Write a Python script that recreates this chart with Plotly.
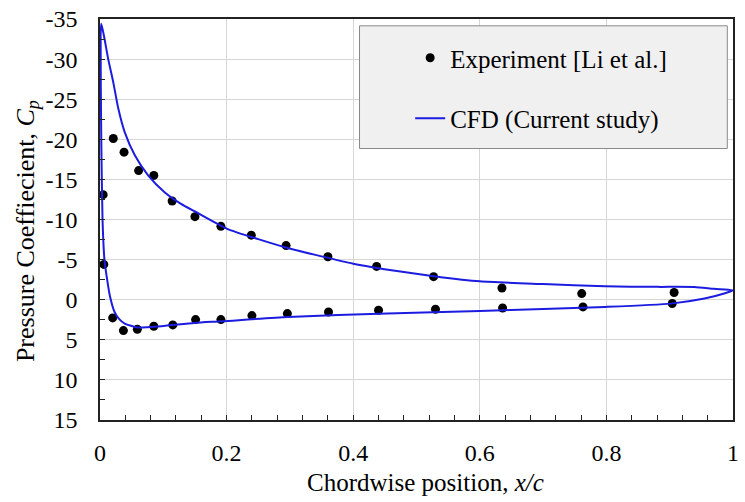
import plotly.graph_objects as go

# Experimental pressure coefficients (suction and pressure sides)
exp_upper_x = [0.005, 0.021, 0.038, 0.061, 0.085, 0.114, 0.150, 0.191, 0.239, 0.294,
               0.360, 0.437, 0.527, 0.635, 0.761, 0.907]
exp_upper_cp = [-13.1, -20.1, -18.4, -16.1, -15.5, -12.3, -10.35, -9.15, -8.05, -6.75,
                -5.35, -4.15, -2.87, -1.46, -0.76, -0.9]
exp_lower_x = [0.006, 0.020, 0.037, 0.059, 0.085, 0.115, 0.151, 0.191, 0.240, 0.296,
               0.361, 0.440, 0.530, 0.636, 0.763, 0.904]
exp_lower_cp = [-4.4, 2.27, 3.85, 3.68, 3.31, 3.14, 2.48, 2.48, 1.98, 1.73,
                1.53, 1.32, 1.19, 1.03, 0.9, 0.47]

# CFD pressure distribution, suction side from leading edge to trailing edge
cfd_upper_x = [0.002, 0.006, 0.013, 0.021, 0.029, 0.039, 0.055, 0.076, 0.102, 0.128,
               0.150, 0.201, 0.250, 0.292, 0.350, 0.400, 0.469, 0.530, 0.600, 0.700,
               0.798, 0.880, 0.939, 0.970, 1.0]
cfd_upper_cp = [-34.4, -33.0, -30.0, -27.1, -23.8, -20.9, -18.0, -15.5, -13.4, -11.95,
                -11.0, -8.84, -7.55, -6.55, -5.4, -4.49, -3.57, -2.9, -2.29, -1.95,
                -1.67, -1.6, -1.58, -1.35, -1.17]
# CFD pressure side, from trailing edge back to the leading edge
cfd_lower_x = [1.0, 0.986, 0.955, 0.902, 0.798, 0.700, 0.600, 0.454, 0.297, 0.193,
               0.149, 0.097, 0.060, 0.039, 0.030, 0.023, 0.016, 0.010, 0.007, 0.004,
               0.002, 0.001]
cfd_lower_cp = [-1.17, -0.77, -0.14, 0.49, 0.9, 1.15, 1.4, 1.73, 2.15, 2.69,
                2.9, 3.3, 3.47, 2.97, 2.4, 1.53, -0.34, -3.2, -5.0, -10.0,
                -20.0, -33.0]

# Axis tick labels
x_tick_vals = [0, 0.2, 0.4, 0.6, 0.8, 1]
x_tick_text = ["0", "0.2", "0.4", "0.6", "0.8", "1"]
y_tick_vals = [-35, -30, -25, -20, -15, -10, -5, 0, 5, 10, 15]
y_tick_text = ["-35", "-30", "-25", "-20", "-15", "-10", "-5", "0", "5", "10", "15"]

cfd_x = cfd_lower_x + cfd_upper_x
cfd_cp = cfd_lower_cp + cfd_upper_cp
exp_x = exp_upper_x + [None] + exp_lower_x
exp_cp = exp_upper_cp + [None] + exp_lower_cp

font_family = "Liberation Serif, Times New Roman, serif"

fig = go.Figure()
fig.add_trace(go.Scatter(
    x=exp_x, y=exp_cp, mode="markers", name="Experiment [Li et al.]",
    marker=dict(color="black", size=9), legendgroup="a",
))
fig.add_trace(go.Scatter(
    x=cfd_x, y=cfd_cp, mode="lines", name="CFD (Current study)",
    line=dict(color="rgb(28,28,225)", width=2, shape="spline", smoothing=0.6),
    legendgroup="b",
))

# Legend panel background
fig.add_shape(type="rect", xref="paper", yref="paper",
              x0=0.410, x1=0.991, y0=0.677, y1=0.983,
              fillcolor="#f0f0f0", line=dict(color="#8a8a8a", width=1), layer="above")

# Axis titles
fig.add_annotation(text="Chordwise position, <i>x/c</i>", xref="paper", yref="paper",
                   x=0.515, y=-0.157, xanchor="center", yanchor="middle",
                   showarrow=False, font=dict(size=25))
fig.add_annotation(text="Pressure Coeffiecient, <i>C<sub>p</sub></i>", xref="paper", yref="paper",
                   x=-0.116, y=0.47, xanchor="center", yanchor="middle", textangle=-90,
                   showarrow=False, font=dict(size=26))

fig.update_layout(
    width=745, height=502,
    margin=dict(l=100, r=6, t=18, b=82),
    plot_bgcolor="white", paper_bgcolor="white",
    font=dict(family=font_family, size=24, color="black"),
    showlegend=True,
    legend=dict(
        x=0.49, y=0.96, xanchor="left", yanchor="top",
        bgcolor="rgba(0,0,0,0)", borderwidth=0,
        font=dict(family=font_family, size=25, color="black"),
        tracegroupgap=25, traceorder="grouped",
    ),
    xaxis=dict(
        range=[0, 1], tickvals=x_tick_vals, ticktext=x_tick_text,
        showgrid=True, gridcolor="#d6d6d6", gridwidth=1,
        showline=True, linecolor="#222", linewidth=1.5, mirror=True,
        ticks="inside", ticklen=5, tickcolor="#222", tickwidth=1,
        minor=dict(dtick=0.04, ticks="inside", ticklen=5, tickcolor="#222", showgrid=False),
        zeroline=False, ticklabelstandoff=10,
        tickfont=dict(size=24),
    ),
    yaxis=dict(
        range=[15, -35], tickvals=y_tick_vals, ticktext=y_tick_text,
        showgrid=True, gridcolor="#d6d6d6", gridwidth=1,
        showline=True, linecolor="#222", linewidth=1.5, mirror=True,
        ticks="inside", ticklen=5, tickcolor="#222", tickwidth=1,
        minor=dict(dtick=2.5, ticks="inside", ticklen=5, tickcolor="#222", showgrid=False),
        zeroline=False, ticklabelstandoff=16,
        tickfont=dict(size=24),
    ),
)

fig.write_html("out.html")
